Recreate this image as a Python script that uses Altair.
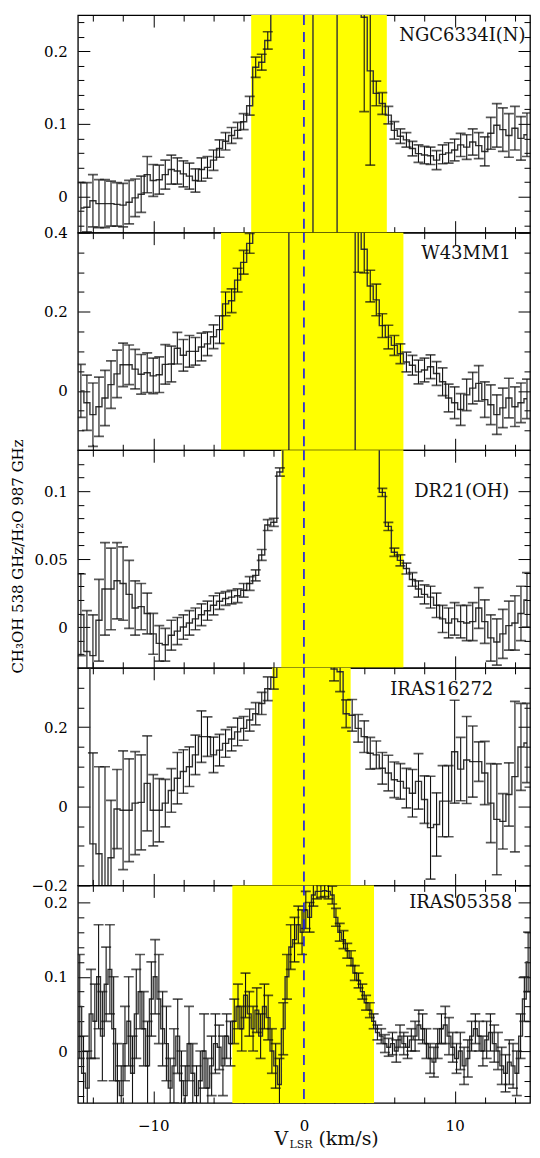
import altair as alt
import pandas as pd

SERIF = "DejaVu Serif"
W, H = 453, 218

# ---------------- data (ratio values and 1-sigma errors per channel) ----------------
P1_STEP = 0.4
P1_R = [-0.016, -0.015, -0.006, -0.010, -0.010, -0.010, -0.011, -0.012, -0.008, -0.002,
        0.003, 0.030, 0.022, 0.023, 0.030, 0.037, 0.035, 0.031, 0.028, 0.022,
        0.037, 0.040, 0.050, 0.066, 0.076, 0.084, 0.091, 0.103, 0.125, 0.178,
        0.185, 0.215,
        0.45, 0.7, 0.9, 1.2, 1.5, 1.9, 2.4,
        -0.6, -0.9, -0.8, -0.5,
        0.9, 0.7, 0.5, 0.4,
        0.247, 0.173, 0.142, 0.128, 0.112, 0.091, 0.083, 0.078, 0.066, 0.059,
        0.057, 0.056, 0.050, 0.058, 0.060, 0.064, 0.071, 0.068, 0.075, 0.070,
        0.062, 0.087, 0.098, 0.092, 0.084, 0.094, 0.080, 0.085]
P1_E = [0.035, 0.034, 0.036, 0.033, 0.033, 0.031, 0.030, 0.030, 0.030, 0.026,
        0.025, 0.025, 0.022, 0.020, 0.020, 0.020, 0.018, 0.018, 0.018, 0.016,
        0.016, 0.015, 0.014, 0.012, 0.012, 0.011, 0.011, 0.011, 0.013, 0.014,
        0.011, 0.012,
        0.05, 0.05, 0.05, 0.05, 0.05, 0.05, 0.05, 0.05, 0.05, 0.05, 0.05, 0.05, 0.05, 0.05, 0.05,
        0.130, 0.130, 0.017, 0.015, 0.012, 0.012, 0.010, 0.010, 0.010, 0.012,
        0.012, 0.012, 0.013, 0.013, 0.014, 0.015, 0.016, 0.017, 0.018, 0.018,
        0.020, 0.022, 0.030, 0.030, 0.030, 0.030, 0.030, 0.030]

P2_STEP = 0.4
P2_R = [0.000, -0.030, -0.060, -0.040, -0.018, 0.016, 0.043, 0.066, 0.066, 0.055,
        0.042, 0.046, 0.038, 0.041, 0.067, 0.068, 0.108, 0.090, 0.100, 0.100,
        0.111, 0.119, 0.137, 0.155, 0.220, 0.228, 0.280, 0.325, 0.373,
        0.5, 0.7, 0.9, 1.1, 1.4, 1.8,
        -0.4, -0.6, -0.8, -1.0, -1.2, -1.0, -0.8, -0.6, -0.5, -0.4, -0.3,
        0.420, 0.358, 0.265, 0.230, 0.165, 0.136, 0.115, 0.094, 0.073, 0.065,
        0.048, 0.053, 0.061, 0.044, 0.023, -0.018, -0.030, -0.047, -0.010, 0.007,
        0.019, -0.022, -0.035, -0.060, -0.043, -0.018, -0.040, -0.030, -0.020]
P2_E = [0.067, 0.070, 0.080, 0.075, 0.070, 0.060, 0.060, 0.055, 0.050, 0.050,
        0.050, 0.050, 0.045, 0.045, 0.050, 0.045, 0.040, 0.040, 0.040, 0.035,
        0.035, 0.030, 0.030, 0.035, 0.030, 0.030, 0.030, 0.030, 0.025,
        0.05, 0.05, 0.05, 0.05, 0.05, 0.05, 0.05, 0.05, 0.05, 0.05, 0.05, 0.05,
        0.05, 0.05, 0.05, 0.05, 0.05,
        0.120, 0.060, 0.040, 0.040, 0.030, 0.030, 0.025, 0.025, 0.025, 0.025,
        0.030, 0.030, 0.030, 0.030, 0.035, 0.035, 0.040, 0.040, 0.040, 0.040,
        0.045, 0.045, 0.050, 0.050, 0.050, 0.050, 0.050, 0.050, 0.050]

P3_STEP = 0.4
P3_R = [0.009, -0.018, -0.021, 0.005, 0.028, 0.028, 0.034, 0.032, 0.024, 0.014,
        0.015, 0.010, -0.005, -0.012, -0.013, -0.006, -0.003, 0.000, 0.003, 0.006,
        0.009, 0.012, 0.016, 0.019, 0.021, 0.022, 0.023, 0.027, 0.032, 0.038,
        0.053, 0.075, 0.077, 0.114,
        0.2, 0.25, 0.3, 0.35, 0.4, 0.45, 0.5, 0.55, 0.5, 0.45, 0.4, 0.35, 0.3, 0.25, 0.2, 0.18,
        0.099, 0.074, 0.055, 0.049, 0.043, 0.035, 0.028, 0.024, 0.022, 0.016,
        0.006, 0.003, 0.006, 0.004, 0.003, 0.004, 0.014, 0.004, -0.008, -0.011,
        -0.005, 0.001, 0.003, 0.010, 0.020]
P3_E = [0.030, 0.030, 0.030, 0.030, 0.034, 0.030, 0.028, 0.027, 0.025, 0.020,
        0.017, 0.015, 0.015, 0.013, 0.012, 0.011, 0.010, 0.009, 0.009, 0.008,
        0.008, 0.007, 0.007, 0.006, 0.005, 0.005, 0.005, 0.005, 0.005, 0.004,
        0.004, 0.004, 0.003, 0.003,
        0.01, 0.01, 0.01, 0.01, 0.01, 0.01, 0.01, 0.01, 0.01, 0.01, 0.01, 0.01, 0.01, 0.01, 0.01, 0.01,
        0.003, 0.003, 0.003, 0.004, 0.004, 0.005, 0.006, 0.007, 0.008, 0.009,
        0.010, 0.011, 0.012, 0.012, 0.013, 0.014, 0.015, 0.016, 0.017, 0.017,
        0.018, 0.018, 0.020, 0.020, 0.020]

P4_STEP = 0.4
P4_R = [0.5, 0.5, -0.095, -0.12, -0.25, -0.13, -0.007, -0.010, -0.010, 0.008,
        0.010, 0.058, -0.010, -0.010, 0.008, 0.040, 0.071, 0.088, 0.100, 0.130,
        0.176, 0.176, 0.130, 0.142, 0.159, 0.170, 0.188, 0.197, 0.218, 0.234,
        0.260, 0.297, 0.326,
        0.5, 0.6, 0.8, 1.0, 1.2, 1.0, 0.8, 0.6, 0.5,
        0.347, 0.340, 0.234, 0.230, 0.197, 0.176, 0.134, 0.130, 0.096, 0.084,
        0.067, 0.063, 0.046, 0.033, 0.063, 0.017, -0.054, -0.046, 0.013, 0.013,
        0.138, 0.094, 0.117, 0.113, 0.113, 0.084, 0.008, -0.033, -0.038, 0.030,
        0.075, 0.150, 0.160]
P4_E = [0.05, 0.05, 0.23, 0.22, 0.35, 0.145, 0.10, 0.15, 0.13, 0.13,
        0.12, 0.12, 0.09, 0.08, 0.06, 0.055, 0.065, 0.055, 0.05, 0.05,
        0.065, 0.05, 0.045, 0.04, 0.035, 0.03, 0.035, 0.03, 0.028, 0.028,
        0.028, 0.03, 0.03,
        0.05, 0.05, 0.05, 0.05, 0.05, 0.05, 0.05, 0.05, 0.05,
        0.03, 0.05, 0.035, 0.04, 0.035, 0.04, 0.04, 0.035, 0.04, 0.045,
        0.045, 0.045, 0.05, 0.06, 0.07, 0.06, 0.13, 0.08, 0.09, 0.09,
        0.13, 0.08, 0.11, 0.09, 0.05, 0.08, 0.10, 0.14, 0.07, 0.08,
        0.19, 0.11, 0.10]

P5_STEP = 0.25
P5_R = [0.06, -0.03, -0.05, 0.05, 0.04, 0.10, 0.02, 0.09, 0.11, 0.03,
        -0.04, -0.06, 0.01, 0.04, -0.03, 0.05, 0.08, 0.03, -0.02, 0.07,
        0.10, 0.07, 0.03, 0.01, -0.05, -0.02, 0.02, -0.04, -0.06, 0.01,
        -0.03, -0.06, -0.04, 0.00, -0.05, -0.02, 0.01, 0.005, -0.02, 0.02,
        0.01,
        0.04, 0.06, 0.03, 0.075, 0.05, 0.03, 0.055, 0.02, 0.06, 0.045,
        0.00, -0.02, -0.045, 0.03, 0.10, 0.14, 0.15, 0.17, 0.16, 0.19,
        0.18, 0.21, 0.215, 0.215, 0.216, 0.215, 0.21, 0.18, 0.16, 0.15,
        0.135, 0.125, 0.105, 0.095, 0.08, 0.065, 0.055, 0.04,
        0.025, 0.02, 0.01, 0.005, 0.01, 0.0, 0.02, 0.01, 0.005, 0.015,
        0.02, 0.035, 0.03, 0.01, -0.01, -0.015, 0.01, 0.03, 0.035, 0.02,
        0.005, -0.01, 0.0, -0.02, -0.01, 0.02, 0.03, 0.02, 0.0, 0.015,
        0.025, 0.01, 0.0, -0.02, -0.03, -0.015, -0.02, -0.03, 0.02, 0.07,
        0.12]
P5_E = [0.07, 0.05, 0.05, 0.06, 0.05, 0.07, 0.06, 0.05, 0.06, 0.07,
        0.05, 0.04, 0.05, 0.06, 0.05, 0.06, 0.05, 0.05, 0.06, 0.05,
        0.05, 0.06, 0.05, 0.05, 0.04, 0.05, 0.05, 0.04, 0.04, 0.05,
        0.04, 0.04, 0.04, 0.05, 0.04, 0.04, 0.04, 0.03, 0.04, 0.03,
        0.03,
        0.03, 0.03, 0.03, 0.03, 0.03, 0.03, 0.03, 0.03, 0.03, 0.03,
        0.03, 0.03, 0.035, 0.035, 0.03, 0.03, 0.03, 0.025, 0.03, 0.025,
        0.02, 0.015, 0.01, 0.008, 0.008, 0.01, 0.012, 0.012, 0.012, 0.012,
        0.01, 0.01, 0.01, 0.01, 0.01, 0.01, 0.01, 0.01,
        0.010, 0.010, 0.012, 0.012, 0.015, 0.015, 0.015, 0.015, 0.015, 0.015,
        0.020, 0.020, 0.020, 0.020, 0.020, 0.020, 0.020, 0.020, 0.025, 0.025,
        0.020, 0.020, 0.025, 0.025, 0.025, 0.020, 0.020, 0.020, 0.020, 0.025,
        0.025, 0.025, 0.025, 0.025, 0.025, 0.030, 0.030, 0.030, 0.030, 0.030,
        0.040]

NAMES = ["NGC6334I(N)", "W43MM1", "DR21(OH)", "IRAS16272", "IRAS05358"]
STEPS = [P1_STEP, P2_STEP, P3_STEP, P4_STEP, P5_STEP]
RATIOS = [P1_R, P2_R, P3_R, P4_R, P5_R]
ERRORS = [P1_E, P2_E, P3_E, P4_E, P5_E]
Y_DOMAINS = [[-0.05, 0.25], [-0.15, 0.4], [-0.03, 0.13], [-0.2, 0.35], [-0.07, 0.223]]
Y_MAJOR = [[0, 0.1, 0.2], [0, 0.2, 0.4], [0, 0.05, 0.1], [-0.2, 0, 0.2], [0, 0.1, 0.2]]
Y_MINOR = [
    [-0.04, -0.02, 0.02, 0.04, 0.06, 0.08, 0.12, 0.14, 0.16, 0.18, 0.22, 0.24],
    [-0.1, -0.05, 0.05, 0.1, 0.15, 0.25, 0.3, 0.35],
    [-0.02, -0.01, 0.01, 0.02, 0.03, 0.04, 0.06, 0.07, 0.08, 0.09, 0.11, 0.12],
    [-0.15, -0.1, -0.05, 0.05, 0.1, 0.15, 0.25, 0.3],
    [-0.06, -0.04, -0.02, 0.02, 0.04, 0.06, 0.08, 0.12, 0.14, 0.16, 0.18],
]
BANDS = [(-3.5, 5.5), (-5.5, 6.6), (-1.5, 6.6), (-2.1, 3.1), (-4.75, 4.65)]
X_DOMAIN = [-15, 15]
X_MAJOR = [-10, 0, 10]
X_MINOR = [-14, -12, -8, -6, -4, -2, 2, 4, 6, 8, 12, 14]
Y_TITLE = "CH\u2083OH 538 GHz/H\u2082O 987 GHz"
X_TITLE_PARTS = ["V", "LSR", "(km/s)"]

# label placement (pixels inside each panel)
LABEL_POS = [(322, 26), (344, 26), (337, 47), (313, 27), (332, 23)]


def ax(orient, values, size, **kw):
    d = dict(orient=orient, values=values, tickSize={"expr": str(-size)},
             domain=False, grid=False, ticks=True, tickColor="black",
             tickWidth=1, labels=False, title=None)
    d.update(kw)
    return alt.Axis(**d)


def panel(k):
    n = len(RATIOS[k])
    w = STEPS[k]
    v = [round(X_DOMAIN[0] + w / 2 + w * i, 4) for i in range(n)]
    df = pd.DataFrame({"v": v, "r": RATIOS[k], "e": ERRORS[k]})
    df["lo"] = df["r"] - df["e"]
    df["hi"] = df["r"] + df["e"]

    xs = alt.Scale(domain=X_DOMAIN, nice=False, zero=False)
    ys = alt.Scale(domain=Y_DOMAINS[k], nice=False, zero=False)
    bottom = k == len(NAMES) - 1

    lab_kw = dict(labels=True, labelFont=SERIF, labelFontSize=15, labelColor="black",
                  labelPadding=22.5, labelFlush=False, labelOverlap=False, format="~g")
    if k == 2:
        lab_kw.update(title=Y_TITLE, titleFont=SERIF, titleFontSize=15,
                      titleFontWeight="normal", titleColor="black", titleX=-60,
                      titleY=106, titleAngle=270, titleAlign="center",
                      titleBaseline="middle")
    y_left_major = ax("left", Y_MAJOR[k], 12, **lab_kw)
    y_left_minor = ax("left", Y_MINOR[k], 6)
    y_right_major = ax("right", Y_MAJOR[k], 12)
    y_right_minor = ax("right", Y_MINOR[k], 6)
    if bottom:
        x_bottom_major = ax("bottom", X_MAJOR, 12, labels=True, labelFont=SERIF,
                            labelFontSize=15, labelColor="black", labelPadding=28,
                            labelFlush=False, format="d")
    else:
        x_bottom_major = ax("bottom", X_MAJOR, 12)
    x_bottom_minor = ax("bottom", X_MINOR, 6)
    x_top_major = ax("top", X_MAJOR, 12)
    x_top_minor = ax("top", X_MINOR, 6)

    band_df = pd.DataFrame({"a": [BANDS[k][0]], "b": [BANDS[k][1]]})
    band = alt.Chart(band_df).mark_rect(color="#ffff00").encode(
        x=alt.X("a:Q", scale=xs, axis=None), x2="b:Q")

    base = alt.Chart(df)
    step = base.mark_line(interpolate="step", color="#333333", strokeWidth=1.4,
                          clip=True).encode(
        x=alt.X("v:Q", scale=xs, axis=x_bottom_major),
        y=alt.Y("r:Q", scale=ys, axis=y_left_major))
    err = base.mark_rule(color="#111111", strokeWidth=1.1, clip=True).encode(
        x=alt.X("v:Q", scale=xs, axis=x_bottom_minor),
        y=alt.Y("lo:Q", scale=ys, axis=y_left_minor), y2="hi:Q")
    cap_lo = base.mark_tick(orient="horizontal", size=10, thickness=1.7,
                            color="#111111", clip=True).encode(
        x=alt.X("v:Q", scale=xs, axis=x_top_major),
        y=alt.Y("lo:Q", scale=ys, axis=y_right_major))
    cap_hi = base.mark_tick(orient="horizontal", size=10, thickness=1.7,
                            color="#111111", clip=True).encode(
        x=alt.X("v:Q", scale=xs, axis=x_top_minor),
        y=alt.Y("hi:Q", scale=ys, axis=y_right_minor))

    zero = alt.Chart(pd.DataFrame({"z": [0]})).mark_rule(
        color="#1515ee", strokeDash=[10, 7], strokeWidth=1.6).encode(
        x=alt.X("z:Q", scale=xs, axis=None))

    lx, ly = LABEL_POS[k]
    label = alt.Chart(pd.DataFrame({"t": [NAMES[k]]})).mark_text(
        align="left", baseline="alphabetic", font=SERIF, fontSize=18,
        color="#111111").encode(x=alt.value(lx), y=alt.value(ly), text="t:N")

    layers = [band, step, err, cap_lo, cap_hi, zero, label]
    if bottom:
        placements = [(197, H + 42, 19), (212, H + 45, 11), (241, H + 42, 19)]
        for part, (px, py, fs) in zip(X_TITLE_PARTS, placements):
            layers.append(alt.Chart(pd.DataFrame({"t": [part]})).mark_text(
                align="left", baseline="alphabetic", font=SERIF, fontSize=fs,
                color="#111111").encode(x=alt.value(px), y=alt.value(py), text="t:N"))

    return alt.layer(*layers).resolve_scale(x="shared", y="shared").resolve_axis(
        x="independent", y="independent").properties(width=W, height=H)


chart = alt.vconcat(*[panel(k) for k in range(len(NAMES))], spacing=0, bounds="flush")
chart = chart.properties(
    padding={"left": 2, "top": 4, "right": 0, "bottom": 0},
    background="white",
).configure_view(stroke="black", strokeWidth=1.3)

chart.save("out.html", embed_options={"renderer": "svg", "actions": False})
